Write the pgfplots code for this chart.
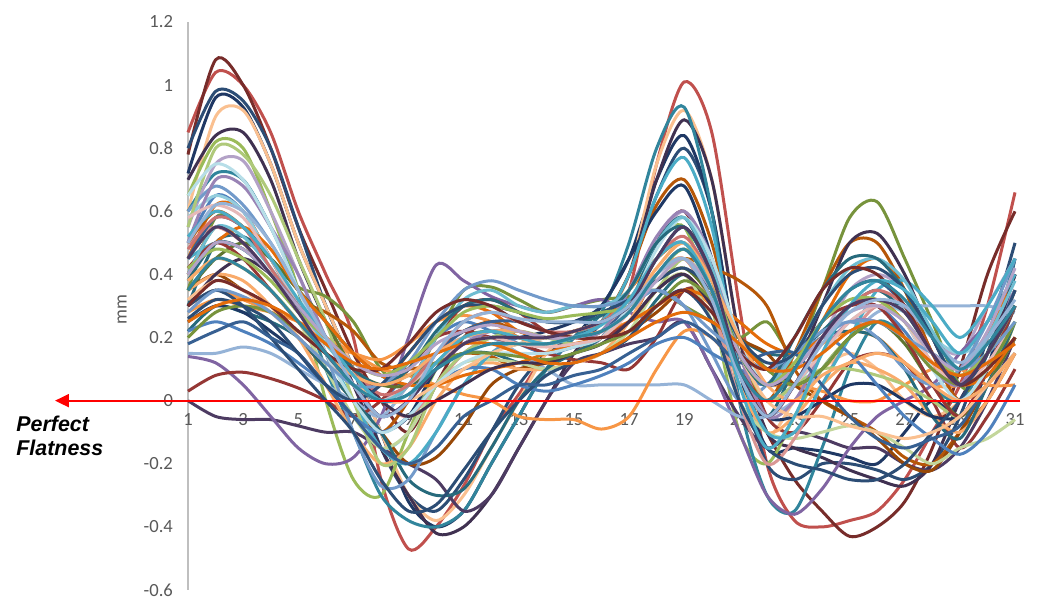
\documentclass[border=0pt]{standalone}
\usepackage{pgfplots}
\pgfplotsset{compat=1.18}
\usepackage{fontspec}
\setmainfont{Carlito}
\newfontfamily\arialfont{Liberation Sans}
\usetikzlibrary{arrows.meta}

% Office 2010 series colours
\definecolor{cA}{HTML}{4F81BD}
\definecolor{cB}{HTML}{C0504D}
\definecolor{cC}{HTML}{9BBB59}
\definecolor{cD}{HTML}{8064A2}
\definecolor{cE}{HTML}{4BACC6}
\definecolor{cF}{HTML}{F79646}
\definecolor{cG}{HTML}{2C4D75}
\definecolor{cH}{HTML}{772C2A}
\definecolor{cI}{HTML}{5F7530}
\definecolor{cJ}{HTML}{4D3B62}
\definecolor{cK}{HTML}{276A7C}
\definecolor{cL}{HTML}{B65708}
\definecolor{cM}{HTML}{729ACA}
\definecolor{cN}{HTML}{CD7371}
\definecolor{cO}{HTML}{AFC97A}
\definecolor{cP}{HTML}{9983B5}
\definecolor{cQ}{HTML}{6FBDD1}
\definecolor{cR}{HTML}{F9AB6B}
\definecolor{cS}{HTML}{FAC090}
\definecolor{cT}{HTML}{C3D69B}
\definecolor{cU}{HTML}{B3A2C7}
\definecolor{cV}{HTML}{93CDDD}
\definecolor{cW}{HTML}{95B3D7}
\definecolor{cX}{HTML}{D99694}
\definecolor{cY}{HTML}{1F3864}
\definecolor{cZ}{HTML}{403151}
\definecolor{cAA}{HTML}{31859C}
\definecolor{cAB}{HTML}{E46C0A}
\definecolor{cAC}{HTML}{953735}
\definecolor{cAD}{HTML}{984807}
\definecolor{cAE}{HTML}{77933C}
\definecolor{cAF}{HTML}{B7DEE8}
\definecolor{cAG}{HTML}{E6B9B8}
\definecolor{cAH}{HTML}{376092}
\definecolor{tickgray}{HTML}{595959}
\definecolor{axgray}{HTML}{BFBFBF}

\newcommand{\ser}[2]{\addplot[#1] table[header=false, x expr=\coordindex+1, y index=0, row sep=\\] {#2\\};}

\begin{document}
\begin{tikzpicture}
\begin{axis}[
  name=ax,
  scale only axis,
  width=413.5pt, height=284pt,
  xmin=1, xmax=31, ymin=-0.6, ymax=1.2,
  clip=false,
  axis x line*=middle,
  axis y line*=left,
  hide obscured x ticks=false,
  x axis line style={draw=none},
  y axis line style={draw=axgray, line width=1pt},
  xtick={1,3,...,31},
  ytick={-0.6,-0.4,-0.2,0,0.2,0.4,0.6,0.8,1,1.2},
  major tick length=0pt,
  /pgf/number format/assume math mode=true,
  tick label style={font=\fontsize{9.3}{11}\selectfont, text=tickgray},
  xticklabel style={yshift=-3pt},
  yticklabel style={xshift=-4pt},
  every axis plot/.append style={smooth, line width=1.5pt, no marks},
]
\ser{cB}{0.85\\1.04\\1.0\\0.85\\0.6\\0.4\\0.2\\-0.25\\-0.47\\-0.4\\-0.27\\-0.1\\0.02\\0.15\\0.2\\0.22\\0.35\\0.75\\1.01\\0.85\\0.3\\-0.2\\-0.38\\-0.4\\-0.38\\-0.35\\-0.25\\-0.1\\0.05\\0.3\\0.66}
\ser{cH}{0.78\\1.08\\1.0\\0.8\\0.55\\0.35\\0.15\\0.0\\-0.1\\0.05\\0.2\\0.25\\0.2\\0.18\\0.2\\0.22\\0.3\\0.5\\0.6\\0.4\\0.1\\-0.1\\-0.25\\-0.35\\-0.43\\-0.4\\-0.32\\-0.15\\0.1\\0.4\\0.6}
\ser{cG}{0.8\\0.98\\0.95\\0.8\\0.55\\0.3\\0.1\\-0.15\\-0.3\\-0.35\\-0.25\\-0.1\\0.05\\0.15\\0.2\\0.25\\0.4\\0.65\\0.8\\0.6\\0.1\\-0.2\\-0.25\\-0.2\\-0.2\\-0.22\\-0.25\\-0.2\\-0.05\\0.2\\0.5}
\ser{cY}{0.72\\0.96\\0.93\\0.75\\0.5\\0.3\\0.1\\-0.1\\-0.32\\-0.4\\-0.35\\-0.2\\-0.05\\0.1\\0.2\\0.3\\0.45\\0.7\\0.84\\0.6\\0.1\\-0.15\\-0.15\\-0.16\\-0.18\\-0.2\\-0.1\\0.0\\-0.05\\0.1\\0.45}
\ser{cS}{0.6\\0.9\\0.92\\0.75\\0.5\\0.3\\0.1\\-0.1\\-0.3\\-0.38\\-0.3\\-0.15\\0.0\\0.15\\0.22\\0.25\\0.4\\0.75\\0.92\\0.7\\0.2\\-0.1\\0.0\\0.1\\0.15\\0.1\\0.0\\-0.05\\0.0\\0.15\\0.35}
\ser{cZ}{0.7\\0.84\\0.85\\0.7\\0.45\\0.25\\0.05\\-0.15\\-0.3\\-0.42\\-0.4\\-0.3\\-0.15\\0.0\\0.15\\0.25\\0.4\\0.7\\0.89\\0.7\\0.2\\-0.1\\-0.15\\-0.18\\-0.22\\-0.25\\-0.27\\-0.2\\0.0\\0.15\\0.4}
\ser{cC}{0.65\\0.82\\0.8\\0.6\\0.35\\0.0\\-0.25\\-0.3\\-0.1\\0.1\\0.2\\0.22\\0.2\\0.18\\0.2\\0.22\\0.35\\0.5\\0.55\\0.3\\-0.1\\-0.2\\-0.05\\0.1\\0.2\\0.25\\0.2\\0.05\\0.0\\0.15\\0.35}
\ser{cAA}{0.6\\0.72\\0.7\\0.55\\0.35\\0.1\\-0.1\\-0.3\\-0.38\\-0.4\\-0.35\\-0.2\\-0.05\\0.1\\0.2\\0.28\\0.5\\0.8\\0.93\\0.6\\0.0\\-0.3\\-0.35\\-0.15\\0.1\\0.25\\0.2\\0.05\\0.0\\0.15\\0.45}
\ser{cU}{0.55\\0.75\\0.76\\0.6\\0.4\\0.2\\0.05\\-0.05\\0.0\\0.1\\0.18\\0.2\\0.15\\0.12\\0.15\\0.2\\0.35\\0.5\\0.6\\0.45\\0.15\\-0.05\\0.05\\0.2\\0.35\\0.4\\0.35\\0.2\\0.15\\0.3\\0.45}
\ser{cAB}{0.45\\0.62\\0.6\\0.45\\0.3\\0.2\\0.1\\0.05\\0.15\\0.25\\0.3\\0.28\\0.22\\0.2\\0.22\\0.25\\0.35\\0.45\\0.5\\0.35\\0.15\\0.05\\0.1\\0.25\\0.4\\0.45\\0.35\\0.15\\0.05\\0.2\\0.4}
\ser{cA}{0.5\\0.65\\0.6\\0.45\\0.3\\0.15\\0.05\\0.0\\0.1\\0.2\\0.25\\0.22\\0.18\\0.15\\0.17\\0.2\\0.3\\0.45\\0.5\\0.35\\0.1\\0.05\\0.1\\0.2\\0.3\\0.3\\0.22\\0.1\\0.05\\0.15\\0.3}
\ser{cAE}{0.35\\0.58\\0.55\\0.45\\0.36\\0.33\\0.25\\0.1\\0.05\\0.2\\0.35\\0.36\\0.32\\0.28\\0.3\\0.32\\0.33\\0.35\\0.3\\0.25\\0.2\\0.25\\0.15\\0.35\\0.58\\0.63\\0.45\\0.25\\0.05\\0.05\\0.25}
\ser{cL}{0.4\\0.55\\0.5\\0.4\\0.32\\0.28\\0.22\\0.12\\0.1\\0.12\\0.15\\0.14\\0.1\\0.12\\0.15\\0.2\\0.25\\0.4\\0.45\\0.42\\0.38\\0.3\\0.1\\0.0\\-0.05\\-0.1\\-0.18\\-0.2\\-0.1\\0.0\\0.15}
\ser{cK}{0.3\\0.5\\0.52\\0.45\\0.35\\0.25\\0.15\\0.08\\0.05\\0.1\\0.15\\0.15\\0.12\\0.1\\0.12\\0.15\\0.2\\0.32\\0.4\\0.3\\0.2\\0.15\\0.15\\0.22\\0.3\\0.35\\0.28\\0.15\\0.05\\0.15\\0.4}
\ser{cJ}{0.0\\-0.05\\-0.06\\-0.06\\-0.08\\-0.1\\-0.1\\-0.15\\-0.2\\-0.25\\-0.35\\-0.3\\-0.15\\0.0\\0.12\\0.15\\0.18\\0.2\\0.25\\0.1\\-0.05\\-0.15\\-0.1\\-0.12\\-0.15\\-0.15\\-0.2\\-0.22\\-0.15\\0.0\\0.2}
\ser{cD}{0.14\\0.12\\0.05\\-0.05\\-0.15\\-0.2\\-0.18\\-0.05\\0.2\\0.43\\0.38\\0.33\\0.3\\0.28\\0.3\\0.32\\0.28\\0.25\\0.25\\0.1\\-0.1\\-0.3\\-0.36\\-0.28\\-0.15\\-0.05\\0.0\\0.05\\0.15\\0.25\\0.4}
\ser{cV}{0.58\\0.65\\0.6\\0.45\\0.3\\0.15\\0.0\\-0.15\\-0.1\\0.05\\0.15\\0.2\\0.22\\0.2\\0.22\\0.25\\0.3\\0.45\\0.55\\0.4\\0.15\\0.0\\0.05\\0.15\\0.25\\0.3\\0.28\\0.2\\0.15\\0.2\\0.3}
\ser{cW}{0.15\\0.15\\0.17\\0.15\\0.1\\0.05\\0.0\\-0.05\\0.05\\0.15\\0.2\\0.2\\0.15\\0.1\\0.05\\0.05\\0.05\\0.05\\0.05\\0.0\\-0.05\\-0.05\\0.0\\0.1\\0.2\\0.28\\0.3\\0.3\\0.3\\0.3\\0.28}
\ser{cAC}{0.03\\0.08\\0.09\\0.07\\0.04\\0.0\\-0.05\\0.0\\0.1\\0.2\\0.22\\0.2\\0.18\\0.15\\0.13\\0.12\\0.1\\0.2\\0.35\\0.33\\0.2\\-0.05\\-0.1\\0.0\\0.12\\0.15\\0.12\\0.0\\-0.15\\-0.05\\0.1}
\ser{cF}{0.28\\0.32\\0.3\\0.28\\0.25\\0.2\\0.15\\0.1\\0.08\\0.05\\0.02\\0.0\\-0.05\\-0.06\\-0.06\\-0.09\\-0.05\\0.1\\0.22\\0.2\\0.1\\0.05\\0.05\\0.03\\0.0\\0.0\\0.05\\0.1\\0.1\\0.05\\0.05}
\ser{cAD}{0.35\\0.4\\0.35\\0.3\\0.2\\0.1\\0.0\\-0.1\\-0.2\\-0.18\\-0.08\\0.05\\0.1\\0.12\\0.15\\0.2\\0.22\\0.28\\0.35\\0.32\\0.2\\0.15\\0.05\\0.0\\-0.05\\-0.12\\-0.2\\-0.22\\-0.1\\0.05\\0.2}
\ser{cF}{0.3\\0.35\\0.32\\0.28\\0.22\\0.18\\0.15\\0.13\\0.18\\0.25\\0.27\\0.25\\0.2\\0.18\\0.2\\0.22\\0.25\\0.3\\0.35\\0.3\\0.15\\0.1\\0.12\\0.18\\0.22\\0.2\\0.12\\0.05\\0.05\\0.1\\0.2}
\ser{cR}{0.35\\0.4\\0.38\\0.3\\0.2\\0.05\\-0.1\\-0.2\\-0.15\\0.0\\0.1\\0.12\\0.1\\0.1\\0.12\\0.15\\0.25\\0.4\\0.45\\0.3\\0.05\\-0.1\\-0.05\\0.05\\0.12\\0.1\\0.05\\-0.05\\-0.1\\0.0\\0.15}
\ser{cT}{0.38\\0.45\\0.42\\0.35\\0.25\\0.1\\-0.05\\-0.15\\-0.1\\0.05\\0.12\\0.13\\0.12\\0.1\\0.12\\0.15\\0.22\\0.35\\0.4\\0.25\\0.0\\-0.1\\-0.12\\-0.1\\-0.08\\-0.1\\-0.15\\-0.2\\-0.15\\-0.12\\-0.06}
\ser{cK}{0.22\\0.3\\0.28\\0.25\\0.2\\0.1\\0.0\\-0.1\\-0.25\\-0.3\\-0.28\\-0.15\\0.0\\0.1\\0.15\\0.2\\0.3\\0.5\\0.58\\0.4\\0.1\\-0.05\\0.1\\0.2\\0.22\\0.2\\0.1\\-0.05\\-0.12\\0.05\\0.25}
\ser{cX}{0.5\\0.55\\0.5\\0.4\\0.3\\0.2\\0.1\\0.0\\-0.05\\0.05\\0.15\\0.2\\0.2\\0.18\\0.2\\0.22\\0.3\\0.4\\0.45\\0.3\\0.0\\-0.2\\-0.12\\0.05\\0.2\\0.3\\0.25\\0.1\\0.05\\0.15\\0.35}
\ser{cM}{0.6\\0.68\\0.62\\0.5\\0.35\\0.15\\-0.1\\-0.27\\-0.25\\-0.1\\0.05\\0.15\\0.2\\0.2\\0.22\\0.25\\0.3\\0.35\\0.3\\0.15\\0.0\\0.05\\0.15\\0.2\\0.25\\0.2\\0.1\\0.05\\0.1\\0.25\\0.45}
\ser{cL}{0.5\\0.6\\0.55\\0.45\\0.3\\0.15\\0.0\\-0.1\\0.0\\0.15\\0.22\\0.25\\0.22\\0.2\\0.22\\0.25\\0.4\\0.62\\0.7\\0.5\\0.15\\0.0\\0.15\\0.35\\0.5\\0.5\\0.35\\0.15\\0.0\\0.1\\0.3}
\ser{cY}{0.25\\0.3\\0.28\\0.22\\0.15\\0.05\\-0.05\\-0.1\\-0.05\\0.1\\0.18\\0.2\\0.2\\0.22\\0.25\\0.3\\0.45\\0.6\\0.68\\0.45\\0.1\\-0.05\\-0.05\\0.0\\0.05\\0.05\\0.0\\-0.05\\-0.05\\0.05\\0.2}
\ser{cE}{0.45\\0.5\\0.48\\0.4\\0.3\\0.15\\0.0\\-0.15\\-0.2\\-0.1\\0.05\\0.15\\0.18\\0.2\\0.22\\0.25\\0.4\\0.65\\0.77\\0.55\\0.1\\-0.1\\-0.1\\0.05\\0.2\\0.35\\0.38\\0.3\\0.2\\0.3\\0.45}
\ser{cO}{0.55\\0.8\\0.78\\0.65\\0.45\\0.25\\0.0\\-0.2\\-0.15\\0.05\\0.15\\0.2\\0.22\\0.2\\0.18\\0.2\\0.25\\0.35\\0.45\\0.35\\0.15\\0.0\\0.05\\0.1\\0.1\\0.08\\0.05\\0.0\\-0.05\\0.05\\0.2}
\ser{cA}{0.22\\0.25\\0.22\\0.18\\0.12\\0.05\\-0.05\\-0.1\\-0.05\\0.05\\0.1\\0.1\\0.05\\0.03\\0.05\\0.08\\0.12\\0.18\\0.2\\0.15\\0.1\\0.05\\0.1\\0.2\\0.15\\0.05\\-0.05\\-0.12\\-0.17\\-0.1\\0.05}
\ser{cG}{0.3\\0.35\\0.3\\0.2\\0.1\\0.0\\-0.1\\-0.25\\-0.35\\-0.33\\-0.22\\-0.1\\0.0\\0.08\\0.12\\0.15\\0.2\\0.3\\0.35\\0.25\\0.0\\-0.15\\-0.2\\-0.22\\-0.25\\-0.25\\-0.2\\-0.1\\0.0\\0.15\\0.35}
\ser{cAH}{0.45\\0.58\\0.55\\0.45\\0.3\\0.15\\0.05\\0.0\\0.05\\0.15\\0.22\\0.25\\0.25\\0.22\\0.2\\0.22\\0.3\\0.45\\0.55\\0.4\\0.15\\0.1\\0.15\\0.25\\0.35\\0.38\\0.3\\0.15\\0.05\\0.1\\0.3}
\ser{cP}{0.5\\0.7\\0.68\\0.55\\0.4\\0.2\\0.05\\-0.05\\0.0\\0.1\\0.18\\0.22\\0.22\\0.2\\0.2\\0.22\\0.35\\0.52\\0.6\\0.45\\0.15\\-0.05\\0.0\\0.15\\0.25\\0.25\\0.2\\0.1\\0.05\\0.2\\0.35}
\ser{cI}{0.35\\0.45\\0.5\\0.45\\0.35\\0.25\\0.1\\0.05\\0.05\\0.12\\0.2\\0.22\\0.2\\0.2\\0.22\\0.25\\0.3\\0.38\\0.42\\0.33\\0.2\\0.1\\0.05\\0.1\\0.2\\0.25\\0.18\\0.05\\-0.05\\0.05\\0.2}
\ser{cAB}{0.4\\0.5\\0.55\\0.48\\0.35\\0.25\\0.15\\0.08\\0.05\\0.05\\0.08\\0.1\\0.12\\0.15\\0.18\\0.2\\0.25\\0.3\\0.35\\0.32\\0.25\\0.18\\0.15\\0.2\\0.3\\0.32\\0.25\\0.12\\0.05\\0.08\\0.2}
\ser{cAC}{0.42\\0.5\\0.45\\0.35\\0.25\\0.15\\0.05\\0.0\\0.05\\0.2\\0.3\\0.32\\0.28\\0.22\\0.2\\0.2\\0.25\\0.35\\0.4\\0.3\\0.1\\0.0\\0.1\\0.25\\0.3\\0.3\\0.2\\0.05\\-0.05\\0.1\\0.3}
\ser{cAF}{0.65\\0.75\\0.7\\0.55\\0.35\\0.15\\0.0\\-0.1\\-0.05\\0.05\\0.12\\0.15\\0.15\\0.15\\0.17\\0.2\\0.3\\0.48\\0.58\\0.45\\0.2\\0.05\\0.1\\0.2\\0.28\\0.3\\0.25\\0.1\\0.0\\0.1\\0.25}
\ser{cZ}{0.3\\0.4\\0.45\\0.4\\0.3\\0.2\\0.1\\0.0\\-0.05\\0.0\\0.05\\0.1\\0.12\\0.12\\0.15\\0.18\\0.25\\0.35\\0.4\\0.3\\0.15\\0.05\\0.1\\0.3\\0.5\\0.53\\0.4\\0.2\\0.05\\0.15\\0.4}
\ser{cAG}{0.58\\0.62\\0.58\\0.45\\0.3\\0.15\\0.05\\0.0\\0.05\\0.12\\0.18\\0.2\\0.18\\0.17\\0.18\\0.2\\0.28\\0.4\\0.48\\0.35\\0.1\\-0.05\\0.05\\0.15\\0.25\\0.3\\0.25\\0.12\\0.05\\0.12\\0.25}
\ser{cAH}{0.18\\0.22\\0.25\\0.2\\0.15\\0.05\\-0.05\\-0.15\\-0.2\\-0.15\\-0.05\\0.0\\0.05\\0.05\\0.08\\0.1\\0.15\\0.2\\0.25\\0.2\\0.12\\0.15\\0.15\\0.05\\-0.05\\-0.12\\-0.15\\-0.12\\-0.08\\0.05\\0.15}
\ser{cS}{0.32\\0.38\\0.35\\0.28\\0.2\\0.12\\0.05\\0.0\\0.0\\0.05\\0.1\\0.15\\0.18\\0.2\\0.22\\0.25\\0.3\\0.42\\0.5\\0.38\\0.15\\0.0\\-0.05\\-0.05\\-0.08\\-0.1\\-0.12\\-0.1\\-0.05\\0.05\\0.15}
\ser{cAE}{0.2\\0.28\\0.3\\0.28\\0.22\\0.15\\0.08\\0.05\\0.08\\0.12\\0.15\\0.15\\0.14\\0.13\\0.15\\0.18\\0.22\\0.3\\0.38\\0.32\\0.2\\0.1\\0.05\\0.1\\0.2\\0.25\\0.2\\0.1\\0.05\\0.1\\0.25}
\ser{cQ}{0.4\\0.55\\0.52\\0.42\\0.3\\0.18\\0.08\\0.0\\0.05\\0.2\\0.32\\0.35\\0.3\\0.28\\0.3\\0.3\\0.35\\0.5\\0.58\\0.42\\0.15\\0.05\\0.15\\0.3\\0.42\\0.45\\0.38\\0.22\\0.1\\0.2\\0.38}
\ser{cN}{0.48\\0.58\\0.55\\0.42\\0.3\\0.2\\0.1\\0.02\\0.05\\0.15\\0.25\\0.28\\0.25\\0.22\\0.22\\0.25\\0.32\\0.45\\0.52\\0.38\\0.1\\-0.05\\0.05\\0.2\\0.3\\0.35\\0.3\\0.15\\0.05\\0.15\\0.3}
\ser{cK}{0.38\\0.5\\0.48\\0.4\\0.3\\0.2\\0.1\\0.05\\0.1\\0.22\\0.3\\0.32\\0.28\\0.25\\0.25\\0.27\\0.35\\0.5\\0.55\\0.4\\0.15\\0.05\\0.2\\0.35\\0.45\\0.45\\0.35\\0.2\\0.05\\0.15\\0.3}
\ser{cM}{0.28\\0.35\\0.33\\0.28\\0.2\\0.12\\0.05\\0.05\\0.12\\0.25\\0.35\\0.38\\0.35\\0.32\\0.3\\0.3\\0.32\\0.35\\0.3\\0.22\\0.15\\0.1\\0.15\\0.22\\0.25\\0.25\\0.2\\0.15\\0.1\\0.15\\0.25}
\ser{cG}{0.26\\0.32\\0.3\\0.25\\0.15\\0.05\\0.0\\0.05\\0.15\\0.25\\0.3\\0.3\\0.28\\0.25\\0.25\\0.28\\0.32\\0.38\\0.42\\0.35\\0.2\\0.12\\0.15\\0.3\\0.4\\0.42\\0.35\\0.2\\0.05\\0.15\\0.35}
\ser{cC}{0.42\\0.48\\0.45\\0.38\\0.28\\0.2\\0.12\\0.08\\0.12\\0.2\\0.28\\0.3\\0.28\\0.26\\0.27\\0.28\\0.3\\0.4\\0.48\\0.38\\0.15\\0.05\\0.12\\0.25\\0.32\\0.32\\0.25\\0.15\\0.08\\0.15\\0.3}
\ser{cR}{0.38\\0.45\\0.42\\0.35\\0.25\\0.15\\0.08\\0.05\\0.08\\0.15\\0.2\\0.22\\0.22\\0.2\\0.22\\0.25\\0.3\\0.42\\0.5\\0.38\\0.2\\0.05\\0.0\\0.08\\0.12\\0.15\\0.12\\0.05\\0.0\\0.05\\0.15}
\ser{cH}{0.3\\0.38\\0.35\\0.3\\0.22\\0.15\\0.1\\0.1\\0.18\\0.28\\0.32\\0.3\\0.25\\0.22\\0.2\\0.2\\0.22\\0.3\\0.35\\0.28\\0.15\\0.1\\0.2\\0.35\\0.42\\0.4\\0.3\\0.15\\0.05\\0.1\\0.2}
\ser{cE}{0.52\\0.6\\0.55\\0.45\\0.32\\0.2\\0.08\\0.0\\0.02\\0.12\\0.2\\0.22\\0.2\\0.18\\0.2\\0.24\\0.32\\0.45\\0.5\\0.35\\0.05\\-0.15\\-0.05\\0.15\\0.3\\0.38\\0.35\\0.25\\0.15\\0.25\\0.4}
\ser{cU}{0.4\\0.5\\0.48\\0.4\\0.3\\0.2\\0.12\\0.08\\0.1\\0.18\\0.22\\0.24\\0.22\\0.2\\0.2\\0.22\\0.28\\0.38\\0.45\\0.35\\0.15\\0.05\\0.1\\0.2\\0.28\\0.3\\0.25\\0.15\\0.1\\0.22\\0.42}
\ser{cAB}{0.25\\0.3\\0.32\\0.3\\0.25\\0.18\\0.12\\0.1\\0.12\\0.15\\0.18\\0.18\\0.15\\0.12\\0.12\\0.15\\0.2\\0.25\\0.28\\0.25\\0.18\\0.1\\0.1\\0.15\\0.22\\0.25\\0.2\\0.12\\0.08\\0.12\\0.18}
\ser{cJ}{0.45\\0.55\\0.5\\0.4\\0.28\\0.15\\0.05\\-0.05\\0.0\\0.1\\0.18\\0.2\\0.2\\0.2\\0.22\\0.25\\0.3\\0.45\\0.55\\0.4\\0.1\\-0.05\\0.05\\0.2\\0.3\\0.32\\0.28\\0.15\\0.05\\0.15\\0.3}
\ser{cW}{0.5\\0.62\\0.6\\0.5\\0.35\\0.2\\0.05\\-0.05\\0.0\\0.15\\0.25\\0.28\\0.26\\0.25\\0.25\\0.25\\0.3\\0.4\\0.45\\0.32\\0.08\\-0.05\\0.05\\0.18\\0.28\\0.32\\0.3\\0.2\\0.12\\0.2\\0.32}
\ser{cAA}{0.35\\0.45\\0.42\\0.35\\0.25\\0.15\\0.05\\0.0\\0.02\\0.1\\0.15\\0.18\\0.18\\0.18\\0.2\\0.22\\0.28\\0.4\\0.48\\0.35\\0.1\\0.0\\0.1\\0.25\\0.35\\0.38\\0.32\\0.2\\0.1\\0.18\\0.3}
% perfect flatness reference
\draw[red, line width=1pt, -{Triangle[length=7pt,width=6.5pt]}]
  ([xshift=2.5pt]axis cs:31,0) -- ([xshift=-66.5pt]axis cs:1,0);
\node[anchor=base west, inner sep=0pt,
      font=\arialfont\fontsize{10.7}{12}\selectfont\bfseries\itshape]
  at ([xshift=-86pt,yshift=-15.5pt]axis cs:1,0) {Perfect};
\node[anchor=base west, inner sep=0pt,
      font=\arialfont\fontsize{10.7}{12}\selectfont\bfseries\itshape]
  at ([xshift=-86pt,yshift=-27.5pt]axis cs:1,0) {Flatness};
\node[rotate=90, text=tickgray, font=\fontsize{9.3}{11}\selectfont]
  at ([xshift=-33pt]axis cs:1,0.29) {mm};
\path ([xshift=-94pt,yshift=11pt]axis cs:1,1.2) rectangle ([xshift=16pt,yshift=-12pt]axis cs:31,-0.6);
\end{axis}
\end{tikzpicture}
\end{document}
